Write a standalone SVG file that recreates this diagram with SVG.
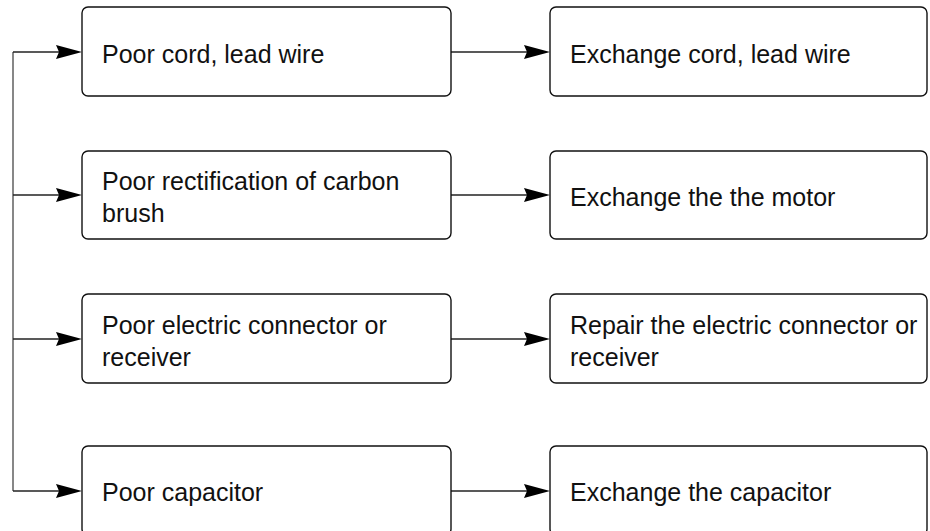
<svg xmlns="http://www.w3.org/2000/svg" width="930" height="531" viewBox="0 0 930 531">
<defs>
<style>
.box{fill:#fff;stroke:#111;stroke-width:1.4}
.t{font-family:"Liberation Sans",Arial,sans-serif;font-size:25px;fill:#111}
.ln{stroke:#222;stroke-width:1.3;fill:none}
.trunk{stroke:#7a7a7a;stroke-width:1.8;fill:none}
.ah{fill:#000}
</style>
<path id="arr" d="M0,0 L-26,-7 L-23,0 L-26,7 Z"/>
</defs>
<rect width="930" height="531" fill="#fff"/>
<g id="connectors">
<path class="trunk" d="M13,52 V491"/>
<path class="ln" d="M13,52 H60"/>
<path class="ln" d="M13,195 H60"/>
<path class="ln" d="M13,339 H60"/>
<path class="ln" d="M13,491 H60"/>
<use href="#arr" x="82" y="52" class="ah"/>
<use href="#arr" x="82" y="195" class="ah"/>
<use href="#arr" x="82" y="339" class="ah"/>
<use href="#arr" x="82" y="491" class="ah"/>
<path class="ln" d="M451,52 H528"/>
<path class="ln" d="M451,195 H528"/>
<path class="ln" d="M451,339 H528"/>
<path class="ln" d="M451,491 H528"/>
<use href="#arr" x="550" y="52" class="ah"/>
<use href="#arr" x="550" y="195" class="ah"/>
<use href="#arr" x="550" y="339" class="ah"/>
<use href="#arr" x="550" y="491" class="ah"/>
</g>
<g id="cause1"><rect class="box" x="82" y="7" width="369" height="89" rx="6"/><text class="t" x="102" y="63">Poor cord, lead wire</text></g>
<g id="cause2"><rect class="box" x="82" y="151" width="369" height="88" rx="6"/><text class="t" x="102" y="190">Poor rectification of carbon</text><text class="t" x="102" y="222">brush</text></g>
<g id="cause3"><rect class="box" x="82" y="294" width="369" height="89" rx="6"/><text class="t" x="102" y="334">Poor electric connector or</text><text class="t" x="102" y="366">receiver</text></g>
<g id="cause4"><rect class="box" x="82" y="446" width="369" height="89" rx="6"/><text class="t" x="102" y="501">Poor capacitor</text></g>
<g id="fix1"><rect class="box" x="550" y="7" width="377" height="89" rx="6"/><text class="t" x="570" y="63">Exchange cord, lead wire</text></g>
<g id="fix2"><rect class="box" x="550" y="151" width="377" height="88" rx="6"/><text class="t" x="570" y="206">Exchange the the motor</text></g>
<g id="fix3"><rect class="box" x="550" y="294" width="377" height="89" rx="6"/><text class="t" x="570" y="334">Repair the electric connector or</text><text class="t" x="570" y="366">receiver</text></g>
<g id="fix4"><rect class="box" x="550" y="446" width="377" height="89" rx="6"/><text class="t" x="570" y="501">Exchange the capacitor</text></g>
</svg>
